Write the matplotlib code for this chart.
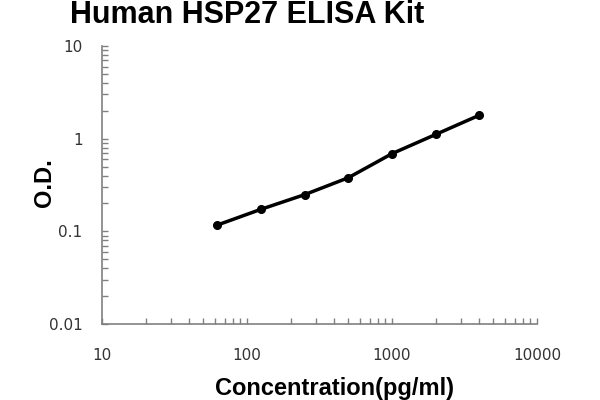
import matplotlib
matplotlib.use("Agg")
import matplotlib.pyplot as plt
from matplotlib.ticker import LogLocator, FixedLocator, NullFormatter

# standard curve readings
conc = [62.5, 125, 250, 500, 1000, 2000, 4000]
od = [0.117, 0.173, 0.249, 0.379, 0.689, 1.11, 1.79]
x_ticks = [10, 100, 1000, 10000]
x_labels = ["10", "100", "1000", "10000"]
y_ticks = [0.01, 0.1, 1, 10]
y_labels = ["0.01", "0.1", "1", "10"]

fig = plt.figure(figsize=(6, 4), dpi=100)
ax = fig.add_axes([0.17, 0.19, 0.725, 0.695])

ax.plot(conc, od, color="black", lw=2.5, marker="o", markersize=5.5)

ax.set_xscale("log")
ax.set_yscale("log")
ax.set_xlim(10, 10000)
ax.set_ylim(0.01, 10)

ax.xaxis.set_major_locator(FixedLocator(x_ticks))
ax.set_xticklabels(x_labels)
ax.yaxis.set_major_locator(FixedLocator(y_ticks))
ax.set_yticklabels(y_labels)
ax.xaxis.set_minor_locator(LogLocator(base=10, subs=range(2, 10)))
ax.yaxis.set_minor_locator(LogLocator(base=10, subs=range(2, 10)))
ax.xaxis.set_minor_formatter(NullFormatter())
ax.yaxis.set_minor_formatter(NullFormatter())

for side in ["top", "right"]:
    ax.spines[side].set_visible(False)
for side in ["left", "bottom"]:
    ax.spines[side].set_color("#808080")
    ax.spines[side].set_linewidth(1.2)

ax.tick_params(axis="both", which="both", direction="in", color="#808080",
               length=4, width=1, labelsize=11, labelcolor="#333333")
ax.tick_params(axis="x", which="major", pad=17)
ax.tick_params(axis="y", which="major", pad=14)

# axis titles and chart title
fig.text(334 / 600, 1 - 395 / 400, "Concentration(pg/ml)", ha="center",
         va="baseline", fontsize=17, fontweight="bold", family="Liberation Sans")
fig.text(44 / 600, 1 - 183 / 400, "O.D.", ha="center", va="center",
         rotation=90, fontsize=17, fontweight="bold", family="Liberation Sans")
fig.text(247.5 / 600, 1 - 23 / 400, "Human HSP27 ELISA Kit", ha="center",
         va="baseline", fontsize=22, fontweight="bold", family="Liberation Sans")

fig.savefig("out.png", dpi=100)
